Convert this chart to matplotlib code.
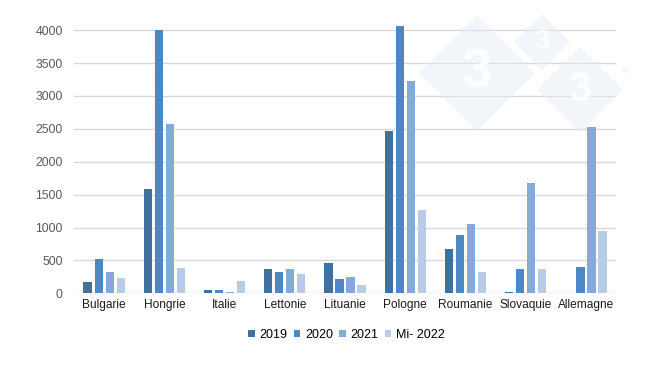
import numpy as np
import matplotlib
matplotlib.use('Agg')
import matplotlib.pyplot as plt
from matplotlib.patches import Polygon

plt.rcParams['font.family'] = ['Liberation Sans', 'DejaVu Sans']

# Data
countries = ['Bulgarie', 'Hongrie', 'Italie', 'Lettonie', 'Lituanie',
             'Pologne', 'Roumanie', 'Slovaquie', 'Allemagne']
series_names = ['2019', '2020', '2021', 'Mi- 2022']
v2019 = [167, 1585, 50, 364, 460, 2470, 677, 20, 0]
v2020 = [525, 4000, 45, 318, 222, 4065, 883, 374, 399]
v2021 = [318, 2577, 20, 364, 242, 3227, 1061, 1672, 2525]
vmid2022 = [232, 385, 192, 288, 126, 1267, 318, 364, 954]
yticks = [0, 500, 1000, 1500, 2000, 2500, 3000, 3500, 4000]

colors = ['#41709d', '#4d87c6', '#83aad9', '#b8cce7']

fig = plt.figure(figsize=(6.5, 3.66), dpi=100)
ax = fig.add_axes([0.1138, 0.1986, 0.834, 0.737])

x = np.arange(len(countries))
step = 0.183
width = 0.135
for i, (vals, name) in enumerate(zip([v2019, v2020, v2021, vmid2022], series_names)):
    ax.bar(x + (i - 1.5) * step, vals, width, color=colors[i], label=name, zorder=3)

ax.set_xlim(-0.5, len(countries) - 0.5)
ax.set_ylim(0, 4100)
ax.set_yticks(yticks)
ax.set_yticklabels([str(t) for t in yticks], fontsize=8.8, color='#595959')
ax.set_xticks(x)
ax.set_xticklabels(countries, fontsize=8.6, color='#1a1a1a')
ax.tick_params(axis='both', length=0)
ax.tick_params(axis='y', pad=8)
ax.tick_params(axis='x', pad=4)
ax.grid(axis='y', color='#d9d9d9', lw=1, zorder=0)
for s in ax.spines.values():
    s.set_visible(False)

leg = ax.legend(loc='upper center', bbox_to_anchor=(0.503, -0.09), ncol=4,
                frameon=False, fontsize=9, handlelength=0.5, handleheight=0.5,
                handletextpad=0.4, columnspacing=0.5)

# faint "333" watermark (pixel coordinates -> figure fractions)
W, H = 650, 366
def diamond(cx, cy, r):
    pts = [(cx - r, cy), (cx, cy - r), (cx + r, cy), (cx, cy + r)]
    return Polygon([(px / W, 1 - py / H) for px, py in pts], closed=True,
                   transform=fig.transFigure, facecolor='#e4ebf5', alpha=0.45,
                   edgecolor='none', zorder=10)

for cx, cy, r, fs in [(477, 73, 58, 40), (542, 42, 28, 20), (580, 90, 43, 30)]:
    fig.patches.append(diamond(cx, cy, r))
    fig.text(cx / W, 1 - cy / H, '3', ha='center', va='center', fontsize=fs,
             fontweight='bold', color='white', alpha=0.85, zorder=11)
fig.text(625 / W, 1 - 72 / H, '®', ha='center', va='center', fontsize=6,
         color='#e4ebf5', zorder=11)

fig.savefig('out.png', dpi=100)
